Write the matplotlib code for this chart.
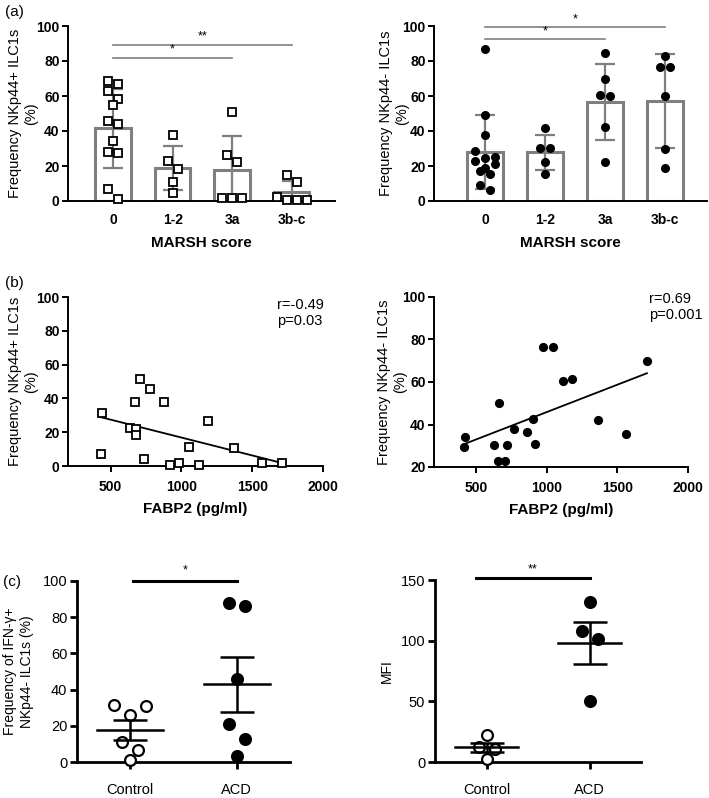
import numpy as np
import matplotlib
matplotlib.use("Agg")
import matplotlib.pyplot as plt

plt.rcParams['font.family'] = ['Liberation Sans', 'DejaVu Sans']

# ---- data ----
marsh = ['0', '1-2', '3a', '3b-c']
nkp44_pos = [
    [68.7, 66.8, 62.8, 58.3, 54.6, 45.7, 44.2, 34.5, 27.9, 27.3, 6.8, 1.1],
    [37.8, 22.6, 18.4, 10.6, 4.6],
    [50.9, 26.4, 22.2, 1.9, 1.5, 1.9],
    [14.8, 10.8, 0.8, 0.4, 0.8, 2.3],
]
nkp44_neg = [
    [86.7, 49.1, 37.6, 28.8, 25.4, 24.7, 23.0, 21.1, 18.6, 16.9, 15.6, 9.3, 6.5],
    [41.7, 30.2, 30.2, 22.2, 15.2],
    [84.8, 69.6, 59.8, 60.7, 42.1, 22.4],
    [82.7, 76.3, 76.3, 59.8, 29.8, 18.6],
]

fabp2_pos = [437, 430, 641, 680, 680, 671, 711, 781, 734, 875, 922, 980, 1055, 1128, 1187, 1374, 1571, 1714]
freq_pos = [31.5, 6.9, 22.6, 21.7, 18.3, 38.0, 51.2, 45.7, 4.3, 38.0, 0.6, 2.0, 11.0, 0.6, 26.4, 10.8, 2.0, 2.0]
fabp2_neg = [412, 422, 626, 659, 654, 701, 718, 765, 860, 903, 919, 969, 1045, 1116, 1175, 1365, 1562, 1709]
freq_neg = [29.3, 34.3, 30.2, 50.2, 22.7, 22.7, 30.2, 37.8, 36.5, 42.4, 30.6, 76.7, 76.7, 60.3, 61.3, 41.9, 35.3, 70.1]

groups_c = ['Control', 'ACD']
ifng_control = [31.6, 31.1, 26.1, 10.8, 6.4, 0.9]
ifng_acd = [88.1, 86.2, 45.8, 21.0, 12.9, 3.1]
mfi_control = [22.0, 12.1, 11.0, 2.8]
mfi_acd = [132.1, 107.9, 101.3, 50.6]

W, H = 709, 798
fig = plt.figure(figsize=(W / 100, H / 100), dpi=100)


def px_axes(x0, ytop, x1, ybot):
    return fig.add_axes([x0 / W, 1 - ybot / H, (x1 - x0) / W, (ybot - ytop) / H])


def swarm(vals, ypx, xpx, sep, coll):
    # column scatter like prism: values close in y share a row, row is centred
    order = np.argsort(vals)[::-1]
    offs = np.zeros(len(vals))
    rows = []
    for i in order:
        if rows and (vals[rows[-1][0]] - vals[i]) * ypx < coll:
            rows[-1].append(i)
        else:
            rows.append([i])
    for r in rows:
        n = len(r)
        pos = [(j - (n - 1) / 2) * sep for j in range(n)]
        seq = []
        lo, hi = 0, n - 1
        while lo <= hi:
            seq.append(pos[lo])
            if hi != lo:
                seq.append(pos[hi])
            lo += 1
            hi -= 1
        for idx, p in zip(r, seq):
            offs[idx] = p / xpx
    return offs


def style_bold(ax, lw=1.4):
    for s in ['top', 'right']:
        ax.spines[s].set_visible(False)
    for s in ['left', 'bottom']:
        ax.spines[s].set_linewidth(lw)
    for lab in ax.get_xticklabels() + ax.get_yticklabels():
        lab.set_fontweight('bold')


def sig(ax, x0, x1, y, txt, color, lw, ty, fs=9):
    ax.plot([x0, x1], [y, y], color=color, lw=lw, clip_on=False)
    ax.text((x0 + x1) / 2, ty, txt, ha='center', va='center', fontsize=fs, clip_on=False)


grey = '#7f7f7f'


def marsh_panel(ax, data, marker, mfc, xlim, ylab, lab_x):
    x = np.arange(len(marsh))
    means = [np.mean(d) for d in data]
    sds = [np.std(d, ddof=1) for d in data]
    ax.bar(x, means, width=0.6, facecolor='white', edgecolor=grey, linewidth=2.2, zorder=1)
    ax.errorbar(x, means, yerr=sds, fmt='none', ecolor=grey, elinewidth=1.6, capsize=7,
                capthick=1.6, zorder=3)
    bbox = ax.get_position()
    ypx = bbox.height * H / 100
    xpx = bbox.width * W / (xlim[1] - xlim[0])
    for i, d in enumerate(data):
        offs = swarm(np.array(d), ypx, xpx, 10, 10)
        ax.plot(i + offs, d, ls='none', marker=marker, ms=5.2, mfc=mfc, mec='black',
                mew=1.3, zorder=4, clip_on=False)
    ax.set_xlim(*xlim)
    ax.set_ylim(0, 100)
    ax.set_yticks(range(0, 101, 20))
    ax.set_xticks(x)
    ax.set_xticklabels(marsh)
    ax.tick_params(axis='x', length=0, pad=9, labelsize=10)
    ax.tick_params(axis='y', length=4, width=1.4, labelsize=10, pad=2)
    ax.set_xlabel('MARSH score', fontsize=11, fontweight='bold', labelpad=6)
    ax.text(lab_x, 0.5, ylab, transform=ax.transAxes, rotation=90, ha='center', va='center',
            fontsize=10.5, multialignment='center')
    style_bold(ax)


# (a) left
ax1 = px_axes(68, 26, 335, 201)
marsh_panel(ax1, nkp44_pos, 's', 'white', (-0.76, 3.73), 'Frequency NKp44+ ILC1s\n(%)', -0.168)
sig(ax1, 0, 3, 89.4, '**', grey, 1.2, 94, fs=9)
sig(ax1, 0, 2, 81.8, '*', grey, 1.2, 86.5, fs=9)

# (a) right
ax2 = px_axes(434, 26, 707, 201)
marsh_panel(ax2, nkp44_neg, 'o', 'black', (-0.85, 3.7), 'Frequency NKp44- ILC1s\n(%)', -0.145)
sig(ax2, 0, 3, 99.2, '*', grey, 1.2, 103.5, fs=9)
sig(ax2, 0, 2, 92.8, '*', grey, 1.2, 97, fs=9)


def corr_panel(ax, xs, ys, marker, mfc, ylim, ylab, lab_x, txt, tx, ty):
    xs = np.array(xs, float)
    ys = np.array(ys, float)
    ax.plot(xs, ys, ls='none', marker=marker, ms=5.3, mfc=mfc, mec='black', mew=1.3,
            zorder=3, clip_on=False)
    k, b = np.polyfit(xs, ys, 1)
    xl = np.array([xs.min(), xs.max()])
    ax.plot(xl, k * xl + b, color='black', lw=1.3, zorder=2)
    ax.set_xlim(200, 2000)
    ax.set_ylim(*ylim)
    ax.set_xticks([500, 1000, 1500, 2000])
    ax.set_yticks(range(ylim[0], 101, 20))
    ax.tick_params(length=4, width=1.4, labelsize=10, pad=2)
    ax.tick_params(axis='x', pad=6)
    ax.set_xlabel('FABP2 (pg/ml)', fontsize=11, fontweight='bold', labelpad=6)
    ax.text(lab_x, 0.5, ylab, transform=ax.transAxes, rotation=90, ha='center', va='center',
            fontsize=10.5, multialignment='center')
    ax.text(tx, ty, txt, transform=ax.transAxes, ha='left', va='top', fontsize=10.5,
            linespacing=1.2)
    style_bold(ax)


# (b)
ax3 = px_axes(68, 297, 323, 466)
corr_panel(ax3, fabp2_pos, freq_pos, 's', 'white', (0, 100), 'Frequency NKp44+ ILC1s\n(%)',
           -0.176, 'r=-0.49\np=0.03', 0.82, 0.995)
ax4 = px_axes(434, 297, 688, 467)
corr_panel(ax4, fabp2_neg, freq_neg, 'o', 'black', (20, 100), 'Frequency NKp44- ILC1s\n(%)',
           -0.165, 'r=0.69\np=0.001', 0.846, 1.03)


def dot_panel(ax, ctrl, acd, ylim, yticks, ylab, lab_x, star, sy, ty, sx0, coll):
    bbox = ax.get_position()
    ypx = bbox.height * H / (ylim[1] - ylim[0])
    xpx = bbox.width * W / 2.0
    for i, (d, fc) in enumerate([(ctrl, 'white'), (acd, 'black')]):
        offs = swarm(np.array(d), ypx, xpx, 16, coll)
        ax.plot(i + offs, d, ls='none', marker='o', ms=7.8, mfc=fc, mec='black',
                mew=1.6, zorder=3, clip_on=False)
        m = np.mean(d)
        se = np.std(d, ddof=1) / np.sqrt(len(d))
        ax.plot([i - 0.31, i + 0.31], [m, m], color='black', lw=1.8, zorder=4)
        ax.errorbar([i], [m], yerr=[se], fmt='none', ecolor='black', elinewidth=1.8,
                    capsize=12, capthick=1.8, zorder=4)
    ax.set_xlim(-0.5, 1.5)
    ax.set_ylim(*ylim)
    ax.set_yticks(yticks)
    ax.set_xticks([0, 1])
    ax.set_xticklabels(groups_c)
    ax.tick_params(length=5, width=2, labelsize=10.5, pad=2)
    ax.tick_params(axis='x', pad=10)
    for s in ['top', 'right']:
        ax.spines[s].set_visible(False)
    for s in ['left', 'bottom']:
        ax.spines[s].set_linewidth(2)
    ax.text(lab_x, 0.5, ylab, transform=ax.transAxes, rotation=90, ha='center', va='center',
            fontsize=10, multialignment='center')
    sig(ax, sx0, 1, sy, star, 'black', 2.2, ty, fs=9)


# (c)
ax5 = px_axes(77, 581, 290, 762)
dot_panel(ax5, ifng_control, ifng_acd, (0, 100), range(0, 101, 20),
          'Frequency of IFN-\u03b3+\nNKp44- ILC1s (%)', -0.275, '*', 100, 106, 0.03, 16)
ax6 = px_axes(435, 580, 641, 762)
dot_panel(ax6, mfi_control, mfi_acd, (0, 150), [0, 50, 100, 150], 'MFI', -0.233, '**',
          152, 159, -0.1, 11)

fig.text(5 / W, 1 - 12 / H, '(a)', fontsize=11, va='center')
fig.text(5 / W, 1 - 283 / H, '(b)', fontsize=11, va='center')
fig.text(3 / W, 1 - 582 / H, '(c)', fontsize=11, va='center')

fig.savefig('out.png', dpi=100, facecolor='white')
